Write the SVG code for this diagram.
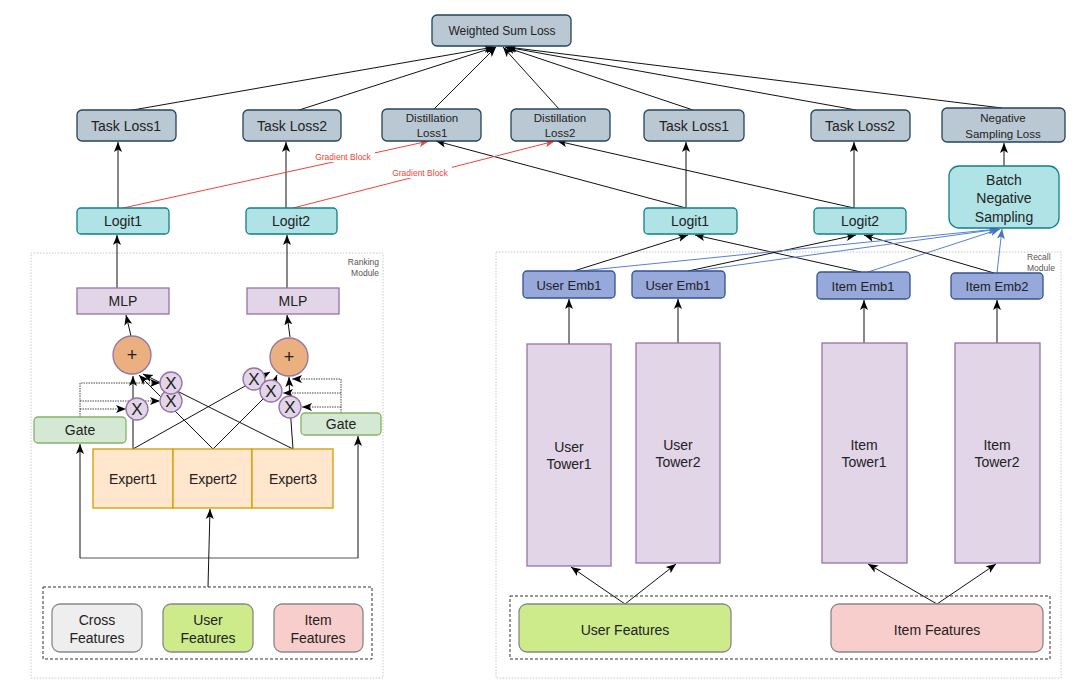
<svg xmlns="http://www.w3.org/2000/svg" width="1080" height="695" viewBox="0 0 1080 695">
<defs>
<style>
text{font-family:"Liberation Sans","Noto Sans",Arial,sans-serif;fill:#222;text-anchor:middle}
.loss{fill:#bac8d3;stroke:#23445d;stroke-width:1.3}
.logit{fill:#b0e3e6;stroke:#0e8088;stroke-width:1.3}
.purple{fill:#e1d5e7;stroke:#9673a6;stroke-width:1.3}
.plus{fill:#ebb07f;stroke:#9673a6;stroke-width:1.3}
.gate{fill:#d5e8d4;stroke:#82b366;stroke-width:1.3}
.expert{fill:#ffe6cc;stroke:#d79b00;stroke-width:1.3}
.emb{fill:#97a8db;stroke:#34528f;stroke-width:1.3}
.grey{fill:#eeeeee;stroke:#888;stroke-width:1.3}
.green{fill:#cdeb8b;stroke:#888;stroke-width:1.3}
.pink{fill:#f8cecc;stroke:#888;stroke-width:1.3}
.module{fill:none;stroke:#c8c8c8;stroke-width:1;stroke-dasharray:1.5 1.5}
.dbox{fill:none;stroke:#333;stroke-width:1;stroke-dasharray:3 2}
.c{fill:none;stroke:#111;stroke-width:1;marker-end:url(#ab)}
.cn{fill:none;stroke:#222;stroke-width:1}
.r{fill:none;stroke:#f0443a;stroke-width:1;marker-end:url(#ar)}
.b{fill:none;stroke:#5a7fd0;stroke-width:1;marker-end:url(#abl)}
.d{fill:none;stroke:#333;stroke-width:0.9;stroke-dasharray:1.5 1;marker-end:url(#ab)}
.t14{font-size:14px}.t13{font-size:13px}.t12{font-size:12px}.t11{font-size:11.5px}
.small{font-size:8.5px;fill:#555}
.grad{font-size:8.5px;fill:#f0443a}
.x{font-size:17px}.p{font-size:18px}
</style>
<marker id="ab" viewBox="0 0 10 10" refX="10" refY="5" markerWidth="10" markerHeight="10" markerUnits="userSpaceOnUse" orient="auto"><path d="M0,1 L10,5 L0,9 L2.5,5 z" fill="#000"/></marker>
<marker id="ar" viewBox="0 0 10 10" refX="10" refY="5" markerWidth="10" markerHeight="10" markerUnits="userSpaceOnUse" orient="auto"><path d="M0,1 L10,5 L0,9 L2.5,5 z" fill="#f0443a"/></marker>
<marker id="abl" viewBox="0 0 10 10" refX="10" refY="5" markerWidth="10" markerHeight="10" markerUnits="userSpaceOnUse" orient="auto"><path d="M0,1 L10,5 L0,9 L2.5,5 z" fill="#4a6fc8"/></marker>
</defs>
<rect width="1080" height="695" fill="#fff"/>

<g id="modules">
<rect class="module" x="31" y="253" width="352" height="425"/>
<text class="small" x="379" y="265" style="text-anchor:end">Ranking</text>
<text class="small" x="379" y="276" style="text-anchor:end">Module</text>
<rect class="module" x="496" y="252" width="565" height="426"/>
<text class="small" x="1027" y="260" style="text-anchor:start">Recall</text>
<text class="small" x="1027" y="271" style="text-anchor:start">Module</text>
<rect class="dbox" x="43" y="587" width="329" height="72"/>
<rect class="dbox" x="510" y="596" width="540" height="63"/>
</g>

<g id="connectors">
<path class="c" d="M127,111 L494,47"/>
<path class="c" d="M296,111 L495,47"/>
<path class="c" d="M434,109 L496,47"/>
<path class="c" d="M559,109 L503,47"/>
<path class="c" d="M693,110 L505,47"/>
<path class="c" d="M856,110 L506,47"/>
<path class="c" d="M1002,108 L507,47"/>
<path class="c" d="M118,208 L118,142"/>
<path class="c" d="M286,208 L286,142"/>
<path class="c" d="M686,208 L686,142"/>
<path class="c" d="M854,208 L854,142"/>
<path class="c" d="M1004,166 L1004,143"/>
<path class="c" d="M686,208 L436,141"/>
<path class="c" d="M854,208 L557,141"/>
<path class="r" d="M123,208 L429,141"/>
<path class="r" d="M293,208 L555,141"/>
<path class="c" d="M117,288 L117,235"/>
<path class="c" d="M287,288 L287,235"/>
<path class="c" d="M131,336 L126,315"/>
<path class="c" d="M290,337 L287,315"/>
<path class="c" d="M133,449 L133,376"/>
<path class="c" d="M213,449 L139,375"/>
<path class="c" d="M293,449 L143,374"/>
<path class="c" d="M133,449 L270,372"/>
<path class="c" d="M213,449 L271,391 L277,375"/>
<path class="c" d="M293,449 L290,407 L289,377"/>
<path class="d" d="M80,417 L80,383 L160,383"/>
<path class="d" d="M80,401 L160,401"/>
<path class="d" d="M80,409 L126,409"/>
<path class="d" d="M341,413 L341,379 L292,379"/>
<path class="d" d="M341,393 L283,393"/>
<path class="d" d="M341,407 L302,407"/>
<path class="cn" d="M80,558 L358,558" style="stroke:#555"/>
<path class="c" d="M80,558 L80,444"/>
<path class="c" d="M358,558 L358,436"/>
<path class="c" d="M208,587 L210,509"/>
<path class="c" d="M569,344 L569,299"/>
<path class="c" d="M678,343 L678,299"/>
<path class="c" d="M864,343 L864,300"/>
<path class="c" d="M997,343 L997,300"/>
<path class="c" d="M574,271 L688,235"/>
<path class="c" d="M861,272 L695,235"/>
<path class="c" d="M688,271 L856,235"/>
<path class="c" d="M994,273 L864,235"/>
<path class="b" d="M580,271 L998,229"/>
<path class="b" d="M695,271 L999,229"/>
<path class="b" d="M868,272 L1000,229"/>
<path class="b" d="M997,273 L1002,229"/>
<path class="c" d="M625,604 L571,567"/>
<path class="c" d="M625,604 L676,564"/>
<path class="c" d="M937,604 L868,564"/>
<path class="c" d="M937,604 L996,564"/>
</g>

<g id="gradient-labels">
<rect x="311" y="151" width="64" height="11" fill="#fff"/>
<text class="grad" x="343" y="160">Gradient Block</text>
<rect x="388" y="167" width="64" height="11" fill="#fff"/>
<text class="grad" x="420" y="176">Gradient Block</text>
</g>

<g id="weighted-sum-loss"><rect class="loss" x="432" y="15" width="139" height="31" rx="5"/><text class="t12" x="502" y="35">Weighted Sum Loss</text></g>
<g id="task-loss1-l"><rect class="loss" x="77" y="110" width="99" height="31" rx="5"/><text class="t14" x="126" y="131">Task Loss1</text></g>
<g id="task-loss2-l"><rect class="loss" x="243" y="110" width="98" height="31" rx="5"/><text class="t14" x="292" y="131">Task Loss2</text></g>
<g id="distill-loss1"><rect class="loss" x="382" y="109" width="99" height="32" rx="5"/><text class="t11" x="432" y="122">Distillation</text><text class="t11" x="432" y="137">Loss1</text></g>
<g id="distill-loss2"><rect class="loss" x="511" y="109" width="99" height="32" rx="5"/><text class="t11" x="560" y="122">Distillation</text><text class="t11" x="560" y="137">Loss2</text></g>
<g id="task-loss1-r"><rect class="loss" x="644" y="110" width="100" height="31" rx="5"/><text class="t14" x="694" y="131">Task Loss1</text></g>
<g id="task-loss2-r"><rect class="loss" x="811" y="110" width="99" height="31" rx="5"/><text class="t14" x="860" y="131">Task Loss2</text></g>
<g id="neg-sampling-loss"><rect class="loss" x="942" y="108" width="123" height="34" rx="5"/><text class="t11" x="1003" y="122">Negative</text><text class="t11" x="1003" y="138">Sampling Loss</text></g>

<g id="logit1-l"><rect class="logit" x="77" y="208" width="92" height="26" rx="4"/><text class="t14" x="123" y="226">Logit1</text></g>
<g id="logit2-l"><rect class="logit" x="246" y="208" width="91" height="26" rx="4"/><text class="t14" x="291" y="226">Logit2</text></g>
<g id="logit1-r"><rect class="logit" x="644" y="208" width="93" height="26" rx="4"/><text class="t14" x="690" y="226">Logit1</text></g>
<g id="logit2-r"><rect class="logit" x="814" y="208" width="92" height="26" rx="4"/><text class="t14" x="860" y="226">Logit2</text></g>
<g id="batch-neg-sampling"><rect class="logit" x="949" y="166" width="110" height="62" rx="10"/><text class="t14" x="1004" y="185">Batch</text><text class="t14" x="1004" y="203">Negative</text><text class="t14" x="1004" y="222">Sampling</text></g>

<g id="mlp-l"><rect class="purple" x="77" y="288" width="92" height="26"/><text class="t14" x="123" y="306">MLP</text></g>
<g id="mlp-r"><rect class="purple" x="247" y="288" width="92" height="26"/><text class="t14" x="293" y="306">MLP</text></g>
<g id="plus-l"><circle class="plus" cx="132" cy="355" r="19"/><text class="p" x="132" y="361">+</text></g>
<g id="plus-r"><circle class="plus" cx="289" cy="357" r="19"/><text class="p" x="289" y="363">+</text></g>
<g id="x-l1"><circle class="purple" cx="137" cy="409" r="11"/><text class="x" x="137" y="415">X</text></g>
<g id="x-l2"><circle class="purple" cx="171" cy="401" r="11"/><text class="x" x="171" y="407">X</text></g>
<g id="x-l3"><circle class="purple" cx="171" cy="383" r="11"/><text class="x" x="171" y="389">X</text></g>
<g id="x-r1"><circle class="purple" cx="254" cy="379" r="11"/><text class="x" x="254" y="385">X</text></g>
<g id="x-r2"><circle class="purple" cx="271" cy="391" r="11"/><text class="x" x="271" y="397">X</text></g>
<g id="x-r3"><circle class="purple" cx="290" cy="407" r="11"/><text class="x" x="290" y="413">X</text></g>
<g id="gate-l"><rect class="gate" x="34" y="417" width="92" height="26" rx="4"/><text class="t14" x="80" y="435">Gate</text></g>
<g id="gate-r"><rect class="gate" x="301" y="413" width="80" height="22" rx="4"/><text class="t14" x="341" y="429">Gate</text></g>
<g id="expert1"><rect class="expert" x="93" y="449" width="80" height="59"/><text class="t14" x="133" y="484">Expert1</text></g>
<g id="expert2"><rect class="expert" x="173" y="449" width="79" height="59"/><text class="t14" x="213" y="484">Expert2</text></g>
<g id="expert3"><rect class="expert" x="252" y="449" width="81" height="59"/><text class="t14" x="293" y="484">Expert3</text></g>
<g id="cross-features"><rect class="grey" x="52" y="604" width="90" height="48" rx="8"/><text class="t14" x="97" y="625">Cross</text><text class="t14" x="97" y="643">Features</text></g>
<g id="user-features-l"><rect class="green" x="163" y="604" width="90" height="48" rx="8"/><text class="t14" x="208" y="625">User</text><text class="t14" x="208" y="643">Features</text></g>
<g id="item-features-l"><rect class="pink" x="274" y="604" width="89" height="48" rx="8"/><text class="t14" x="318" y="625">Item</text><text class="t14" x="318" y="643">Features</text></g>

<g id="user-emb1-a"><rect class="emb" x="523" y="271" width="92" height="27" rx="4"/><text class="t13" x="569" y="290">User Emb1</text></g>
<g id="user-emb1-b"><rect class="emb" x="632" y="271" width="93" height="27" rx="4"/><text class="t13" x="678" y="290">User Emb1</text></g>
<g id="item-emb1"><rect class="emb" x="817" y="272" width="93" height="27" rx="4"/><text class="t13" x="863" y="291">Item Emb1</text></g>
<g id="item-emb2"><rect class="emb" x="951" y="273" width="92" height="26" rx="4"/><text class="t13" x="997" y="291">Item Emb2</text></g>
<g id="user-tower1"><rect class="purple" x="527" y="344" width="84" height="222"/><text class="t14" x="569" y="452">User</text><text class="t14" x="569" y="469">Tower1</text></g>
<g id="user-tower2"><rect class="purple" x="636" y="343" width="84" height="220"/><text class="t14" x="678" y="450">User</text><text class="t14" x="678" y="467">Tower2</text></g>
<g id="item-tower1"><rect class="purple" x="822" y="343" width="85" height="220"/><text class="t14" x="864" y="450">Item</text><text class="t14" x="864" y="467">Tower1</text></g>
<g id="item-tower2"><rect class="purple" x="955" y="343" width="85" height="220"/><text class="t14" x="997" y="450">Item</text><text class="t14" x="997" y="467">Tower2</text></g>
<g id="user-features-r"><rect class="green" x="519" y="604" width="212" height="48" rx="8"/><text class="t14" x="625" y="635">User Features</text></g>
<g id="item-features-r"><rect class="pink" x="831" y="604" width="212" height="48" rx="8"/><text class="t14" x="937" y="635">Item Features</text></g>
</svg>
